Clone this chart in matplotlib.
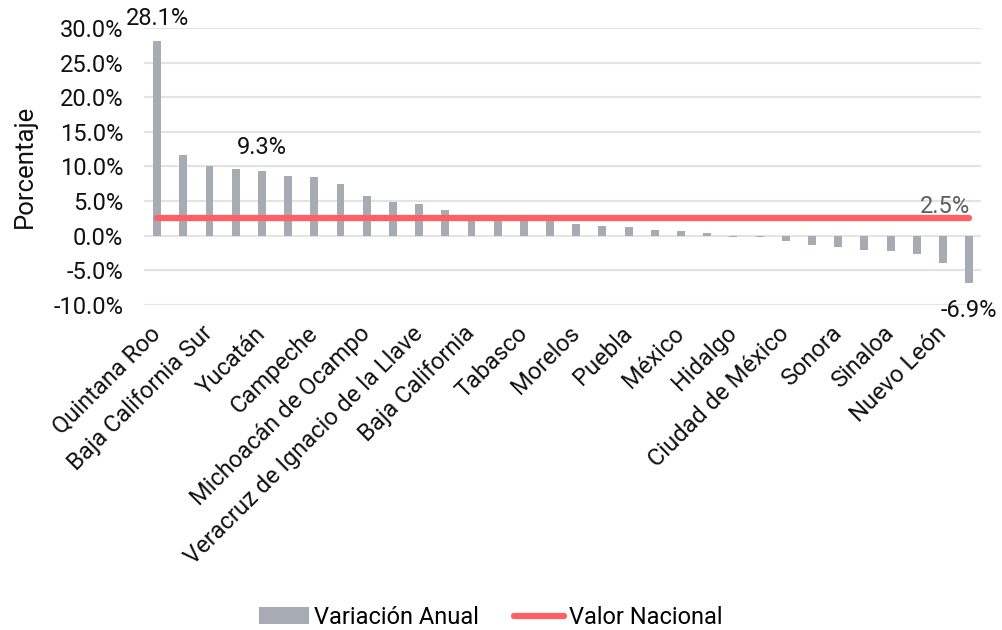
import matplotlib.pyplot as plt
from matplotlib.ticker import FuncFormatter

plt.rcParams['font.family'] = ['Roboto', 'DejaVu Sans']

# Data
estados = [
    'Quintana Roo', 'Aguascalientes', 'Baja California Sur', 'Chiapas',
    'Yucatán', 'Chihuahua', 'Campeche', 'Coahuila de Zaragoza',
    'Michoacán de Ocampo', 'Colima', 'Veracruz de Ignacio de la Llave', 'Durango',
    'Baja California', 'Guanajuato', 'Tabasco', 'Guerrero',
    'Morelos', 'Jalisco', 'Puebla', 'Nayarit',
    'México', 'Oaxaca', 'Hidalgo', 'Querétaro',
    'Ciudad de México', 'San Luis Potosí', 'Sonora', 'Tamaulipas',
    'Sinaloa', 'Tlaxcala', 'Nuevo León', 'Zacatecas',
]
variacion = [28.1, 11.7, 10.0, 9.6, 9.3, 8.6, 8.5, 7.4,
             5.7, 4.9, 4.6, 3.7, 3.0, 2.6, 2.4, 2.3,
             1.7, 1.4, 1.2, 0.8, 0.7, 0.4, -0.2, -0.2,
             -0.8, -1.3, -1.7, -2.1, -2.2, -2.7, -3.9, -6.9]
valor_nacional = 2.5

x = list(range(len(estados)))

fig = plt.figure(figsize=(10.02, 6.3), dpi=100)
ax = fig.add_axes([0.1437, 0.516, 0.8353, 0.4396])

bars = ax.bar(x, variacion, width=0.3, color='#A7ACB4', label='Variación Anual', zorder=2)
line, = ax.plot([x[0], x[-1]], [valor_nacional, valor_nacional], color='#FF6063',
                linewidth=4.5, solid_capstyle='round', label='Valor Nacional', zorder=3)

# value labels
fs = 17
ax.text(x[0], variacion[0] + 2.3, f'{variacion[0]:.1f}%', ha='center', va='baseline', fontsize=fs, color='#111111')
ax.text(x[4], variacion[4] + 2.5, f'{variacion[4]:.1f}%', ha='center', va='baseline', fontsize=fs, color='#111111')
ax.text(x[-1], variacion[-1] - 2.3, f'{variacion[-1]:.1f}%', ha='center', va='top', fontsize=fs, color='#111111')
ax.text(x[-1] + 0.05, valor_nacional + 0.75, f'{valor_nacional:.1f}%', ha='right', va='baseline', fontsize=fs, color='#5E5E5E')

ax.set_xlim(-0.5, len(estados) - 0.55)
ax.set_ylim(-10, 30)
ax.set_yticks(range(-10, 31, 5))
ax.yaxis.set_major_formatter(FuncFormatter(lambda v, p: f'{v:.1f}%'))
ax.set_xticks(x[::2])
ax.set_xticklabels(estados[::2], rotation=45, ha='right', va='center', rotation_mode='anchor')
ax.tick_params(axis='both', length=0, labelsize=fs, colors='#111111')
ax.tick_params(axis='x', pad=18)
ax.tick_params(axis='y', pad=15)
ax.set_ylabel('Porcentaje', fontsize=18.5, color='#111111', labelpad=12)

ax.grid(axis='y', color='#E3E3E3', linewidth=1.5, zorder=0)
ax.set_axisbelow(True)
for s in ax.spines.values():
    s.set_visible(False)

fig.legend([bars, line], ['Variación Anual', 'Valor Nacional'],
           loc='lower center', bbox_to_anchor=(0.49, -0.032), ncol=2, frameon=False,
           fontsize=fs, handlelength=2.1, handletextpad=0.22, columnspacing=1.5)

plt.savefig('out.png', dpi=100)
